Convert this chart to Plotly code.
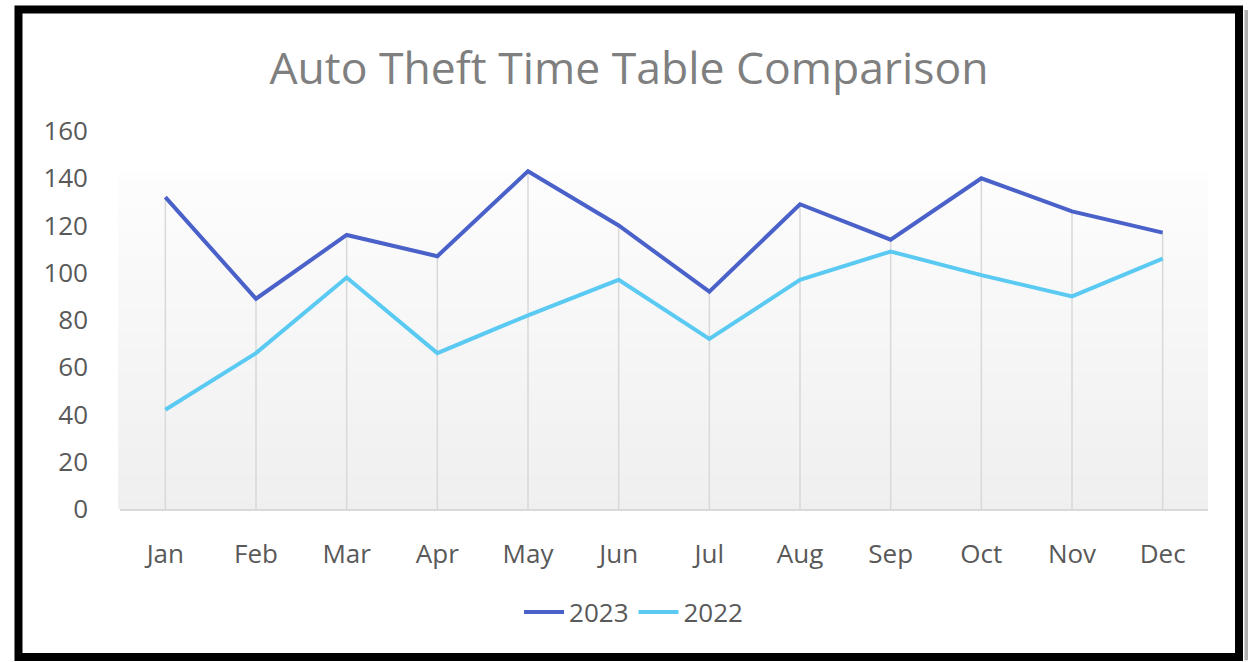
import plotly.graph_objects as go

# Monthly auto theft counts
months = ["Jan", "Feb", "Mar", "Apr", "May", "Jun", "Jul", "Aug", "Sep", "Oct", "Nov", "Dec"]
thefts_2023 = [132, 89, 116, 107, 143, 120, 92, 129, 114, 140, 126, 117]
thefts_2022 = [42, 66, 98, 66, 82, 97, 72, 97, 109, 99, 90, 106]
y_ticks = [0, 20, 40, 60, 80, 100, 120, 140, 160]

FONT = "Open Sans"
C2023 = "#4a61c9"
C2022 = "#5bcaf2"

fig = go.Figure()

# drop lines from the highest value of each month down to the axis
drop_x, drop_y = [], []
for m, a, b in zip(months, thefts_2023, thefts_2022):
    drop_x += [m, m, None]
    drop_y += [0, max(a, b), None]
fig.add_trace(go.Scatter(x=drop_x, y=drop_y, mode="lines",
                         line=dict(color="#d9d9d9", width=1.5),
                         hoverinfo="skip", showlegend=False))

fig.add_trace(go.Scatter(x=months, y=thefts_2023, name="2023", mode="lines",
                         line=dict(color=C2023, width=4)))
fig.add_trace(go.Scatter(x=months, y=thefts_2022, name="2022", mode="lines",
                         line=dict(color=C2022, width=4)))

# plot-area background: vertical gradient, light at top, grey at bottom
shapes = []
n = 40
top, bottom = 0.8915, 0.0
c_top, c_bot = (253, 253, 253), (239, 239, 239)
for i in range(n):
    t = (i + 0.5) / n
    col = tuple(round(c_top[k] + (c_bot[k] - c_top[k]) * t) for k in range(3))
    y1 = top - (top - bottom) * i / n
    y0 = top - (top - bottom) * (i + 1) / n
    shapes.append(dict(type="rect", xref="paper", yref="paper",
                       x0=-0.0018, x1=1.0, y0=y0, y1=y1 + 0.001,
                       fillcolor="rgb(%d,%d,%d)" % col, line=dict(width=0),
                       layer="below"))

# outer frame
shapes.append(dict(type="rect", xref="paper", yref="paper",
                   x0=1.0335, x1=1.038, y0=-0.40, y1=1.32,
                   fillcolor="#b0b0b0", line=dict(width=0), layer="above"))
shapes.append(dict(type="rect", xref="paper", yref="paper",
                   x0=-0.0933, x1=1.0285, y0=-0.3915, y1=1.3214,
                   fillcolor="rgba(0,0,0,0)", line=dict(color="black", width=8),
                   layer="above"))

fig.update_layout(
    width=1248, height=662,
    margin=dict(l=120, r=40, t=131, b=153),
    paper_bgcolor="white", plot_bgcolor="white",
    font=dict(family=FONT, color="#595959", size=26),
    title=dict(text="Auto Theft Time Table Comparison", x=0.504, xanchor="center",
               y=1 - 68 / 662, yanchor="middle", yref="container",
               font=dict(family=FONT, size=44.5, color="#7f7f7f")),
    shapes=shapes,
    showlegend=True,
    legend=dict(orientation="h", x=0.472, xanchor="center", y=-0.2725, yanchor="middle",
                font=dict(size=26, color="#595959"), bgcolor="rgba(0,0,0,0)",
                itemwidth=40),
    xaxis=dict(range=[-0.5, 11.5], showgrid=False, zeroline=False,
               showline=True, linecolor="#d9d9d9", linewidth=2,
               ticks="", ticklabelstandoff=21, fixedrange=True),
    yaxis=dict(range=[0, 160], tickvals=y_ticks, showgrid=False, zeroline=False,
               showline=False, ticks="", ticklabelstandoff=31, fixedrange=True),
)

fig.write_html("out.html")
